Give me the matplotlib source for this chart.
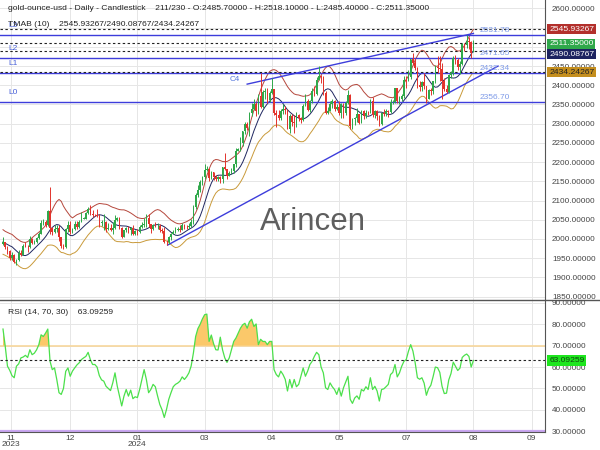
import numpy as np
import pandas as pd
import matplotlib
matplotlib.use('Agg')
import matplotlib.pyplot as plt
from matplotlib.lines import Line2D
from matplotlib.transforms import blended_transform_factory

plt.rcParams['font.family'] = ['Liberation Sans', 'DejaVu Sans']

# Daily gold candles, 03 Nov 2023 .. 23 Aug 2024
open_price = [1986,1992,1978,1969,1950, 1958,1940,1946,1963,1959, 1981,1980,1978,2000,1990,
              1992,2002,2014,2041,2044, 2036,2072,2029,2019,2026, 2028,2004,1981,1979,2027,
              2036,2019,2027,2040,2031, 2045,2053,2053,2067,2077, 2065,2063,2062,2060,2042,
              2043,2045,2027,2029,2024, 2029,2049,2055,2029,2006, 2023,2029,2022,2029,2014,
              2020,2018,2032,2037,2039, 2054,2039,2025,2035,2034, 2034,2024,2020,1993,1992,
              2004,2013,2017,2024,2026, 2024,2035,2031,2030,2034, 2044,2083,2114,2128,2148,
              2160,2179,2182,2158,2174, 2162,2155,2160,2157,2186, 2181,2165,2171,2178,2195,
              2230,2233,2250,2280,2300, 2290,2329,2339,2352,2333, 2372,2344,2383,2383,2361,
              2379,2391,2327,2322,2316, 2332,2337,2335,2286,2320, 2304,2301,2323,2314,2309,
              2346,2360,2336,2358,2386, 2376,2415,2425,2421,2379, 2329,2334,2350,2360,2338,
              2343,2327,2350,2327,2355, 2375,2294,2311,2316,2325, 2303,2333,2319,2329,2328,
              2360,2322,2334,2320,2298, 2327,2326,2332,2330,2356, 2356,2392,2359,2364,2371,
              2415,2411,2422,2469,2459, 2445,2400,2396,2409,2397, 2365,2387,2384,2410,2447,
              2446,2443,2410,2391,2382, 2427,2431,2472,2465,2447, 2456,2507,2504,2514,2512,
              2485.7]
high_price = [2004,1993,1981,1971,1965, 1960,1947,1971,1970,1986, 1993,1983,2007,2003,1996,
              2004,2018,2048,2052,2048, 2075,2135,2032,2035,2035, 2036,2005,1988,2028,2047,
              2047,2029,2047,2046,2048, 2071,2057,2070,2084,2088, 2076,2064,2079,2065,2050,
              2064,2047,2041,2040,2044, 2062,2058,2057,2031,2024, 2032,2033,2032,2037,2023,
              2025,2035,2043,2055,2065, 2066,2040,2040,2043,2042, 2038,2029,2032,1998,2007,
              2016,2022,2031,2030,2035, 2041,2038,2037,2042,2052, 2088,2120,2141,2153,2165,
              2195,2189,2185,2176,2175, 2167,2165,2163,2188,2223, 2183,2176,2184,2196,2236,
              2236,2266,2280,2305,2305, 2331,2354,2365,2357,2378, 2431,2387,2392,2393,2385,
              2418,2391,2336,2335,2339, 2352,2347,2337,2326,2326, 2322,2331,2326,2318,2351,
              2378,2365,2361,2392,2397, 2422,2450,2428,2424,2385, 2344,2358,2364,2361,2352,
              2360,2354,2353,2358,2387, 2378,2314,2318,2342,2326, 2335,2336,2336,2334,2365,
              2369,2336,2335,2322,2330, 2339,2339,2335,2364,2362, 2392,2393,2371,2376,2424,
              2424,2440,2469,2483,2470, 2447,2410,2411,2432,2398, 2390,2392,2411,2452,2477,
              2477,2458,2420,2401,2430, 2436,2475,2478,2471,2463, 2509,2510,2531,2526,2514,
              2518.1]
low_price = [1984,1975,1960,1946,1945, 1937,1931,1942,1956,1957, 1978,1965,1976,1987,1988,
             1989,2001,2012,2036,2031, 2033,2014,2009,2016,2017, 1995,1976,1973,1977,2018,
             2014,2016,2024,2027,2028, 2043,2051,2052,2065,2063, 2058,2060,2056,2031,2033,
             2024,2017,2022,2021,2013, 2027,2046,2025,2002,2004, 2017,2016,2011,2010,2009,
             2011,2016,2029,2030,2032, 2031,2015,2022,2030,2025, 2019,2016,1990,1984,1988,
             1997,2012,2015,2020,2019, 2022,2025,2025,2025,2030, 2038,2077,2110,2122,2141,
             2155,2176,2150,2155,2154, 2152,2151,2146,2146,2179, 2157,2163,2170,2172,2187,
             2228,2229,2243,2272,2283, 2268,2320,2335,2320,2326, 2342,2340,2365,2355,2357,
             2378,2323,2291,2310,2309, 2326,2324,2285,2277,2293, 2277,2291,2307,2303,2306,
             2345,2333,2331,2354,2373, 2374,2413,2407,2374,2326, 2325,2333,2342,2334,2335,
             2323,2314,2315,2323,2351, 2286,2287,2296,2305,2300, 2302,2311,2316,2322,2327,
             2317,2314,2310,2293,2297, 2319,2319,2318,2327,2352, 2353,2353,2351,2358,2368,
             2392,2410,2416,2453,2440, 2392,2384,2385,2390,2353, 2364,2375,2378,2407,2432,
             2410,2364,2385,2380,2380, 2419,2428,2456,2440,2430, 2454,2490,2496,2495,2470,
             2485.4]
close_price = [1992,1978,1969,1950,1958, 1940,1946,1963,1959,1981, 1980,1978,2000,1990,1992,
               2002,2014,2041,2044,2036, 2072,2029,2019,2026,2028, 2004,1981,1979,2027,2036,
               2019,2027,2040,2031,2045, 2053,2053,2067,2077,2065, 2063,2062,2060,2042,2043,
               2045,2027,2029,2024,2029, 2049,2055,2029,2006,2023, 2029,2022,2029,2014,2020,
               2018,2032,2037,2039,2054, 2039,2025,2035,2034,2034, 2024,2020,1993,1992,2004,
               2013,2017,2024,2026,2024, 2035,2031,2030,2034,2044, 2083,2114,2128,2148,2160,
               2179,2182,2158,2174,2162, 2155,2160,2157,2186,2181, 2165,2171,2178,2195,2230,
               2233,2250,2280,2300,2290, 2329,2339,2352,2333,2372, 2344,2383,2383,2361,2379,
               2391,2327,2322,2316,2332, 2337,2335,2286,2320,2304, 2301,2323,2314,2309,2346,
               2360,2336,2358,2386,2376, 2415,2425,2421,2379,2329, 2334,2350,2360,2338,2343,
               2327,2350,2327,2355,2375, 2294,2311,2316,2325,2303, 2333,2319,2329,2328,2360,
               2322,2334,2320,2298,2327, 2326,2332,2330,2356,2356, 2392,2359,2364,2371,2415,
               2411,2422,2469,2459,2445, 2400,2396,2409,2397,2365, 2387,2384,2410,2447,2446,
               2443,2410,2391,2382,2427, 2431,2472,2465,2447,2456, 2507,2504,2514,2512,2485,
               2511.35]

# RSI (14) as drawn in the lower panel
rsi_values = [77.8, 69.7, 60.4, 58.5, 56.0, 55.0, 60.4, 61.5, 64.3, 64.7,
              65.5, 64.5, 68.1, 65.8, 66.5, 68.1, 70.5, 75.1, 74.3, 75.9,
              77.8, 62.7, 58.8, 59.6, 54.2, 48.0, 47.2, 50.0, 58.0, 59.6,
              55.7, 58.1, 59.6, 61.0, 62.0, 63.5, 64.3, 65.0, 66.9, 63.5,
              61.2, 61.2, 60.0, 56.0, 54.0, 53.4, 51.0, 50.0, 49.0, 52.6,
              57.3, 51.1, 46.4, 41.8, 46.4, 49.5, 46.4, 49.2, 45.2, 46.1,
              45.7, 49.5, 54.2, 58.8, 54.2, 48.0, 49.5, 51.9, 50.8, 46.5,
              42.5, 40.0, 36.4, 40.2, 44.9, 48.0, 50.8, 51.9, 52.5, 53.4,
              55.4, 54.2, 55.5, 57.3, 60.5, 66.6, 74.3, 78.0, 80.0, 82.5,
              84.5, 84.8, 72.0, 75.0, 71.0, 68.1, 68.0, 74.0, 68.1, 64.3,
              62.2, 64.3, 68.1, 72.0, 73.6, 75.9, 78.2, 79.8, 80.5, 78.2,
              81.2, 82.4, 79.0, 80.2, 70.5, 73.0, 72.0, 72.0, 70.5, 72.0,
              72.0, 58.8, 56.5, 55.4, 58.1, 56.5, 54.2, 48.8, 54.2, 50.3,
              54.2, 50.8, 51.9, 55.7, 59.6, 55.7, 58.1, 61.2, 62.7, 65.0,
              66.9, 65.8, 60.0, 57.3, 50.3, 49.5, 52.6, 50.8, 49.5, 47.2,
              50.3, 46.4, 50.3, 53.0, 55.7, 44.9, 43.0, 45.5, 46.5, 44.9,
              49.5, 48.8, 50.8, 49.5, 55.0, 49.5, 51.0, 48.8, 44.1, 49.5,
              49.8, 50.8, 51.9, 56.5, 57.5, 61.2, 55.4, 57.3, 60.4, 62.7,
              63.5, 67.4, 70.5, 67.5, 62.0, 55.0, 54.3, 55.0, 52.5, 46.8,
              49.9, 51.5, 55.5, 60.0, 59.7, 57.5, 51.0, 47.6, 47.8, 54.0,
              57.0, 62.3, 60.3, 58.4, 59.5, 64.5, 65.5, 66.1, 65.0, 60.0,
              63.09259]

# horizontal levels
level_names = ['L0', 'L1', 'L2', 'L3']
level_values = [2356.70, 2432.34, 2471.65, 2531.78]
tmab_last = [2545.93267, 2490.08767, 2434.24267]
last_close = 2511.35
rsi_last = 63.09259

# channel lines (bar index, price)
upper_line_x = [109, 210]
upper_line_y = [2403, 2535]
lower_line_x = [73.5, 221]
lower_line_y = [1984, 2450]

tick_pos = [3.5, 30, 60, 90, 120, 150, 180, 210, 236]
tick_labels = ['11\n2023', '12', '01\n2024', '03', '04', '05', '07', '08', '09']

o = np.array(open_price, dtype=float)
h = np.array(high_price, dtype=float)
l = np.array(low_price, dtype=float)
c = np.array(close_price, dtype=float)
idx = np.arange(len(c))

# TMAB(10): triangular MA with a range-based envelope
cs = pd.Series(c)
mid = cs.rolling(6, min_periods=1).mean().rolling(5, min_periods=1).mean()
prev_c = cs.shift(1).fillna(cs.iloc[0])
tr = pd.concat([pd.Series(h - l), (pd.Series(h) - prev_c).abs(), (pd.Series(l) - prev_c).abs()], axis=1).max(axis=1)
band = tr.rolling(6, min_periods=1).mean().rolling(5, min_periods=1).mean()
upper = mid + 1.6 * band
lower = mid - 1.6 * band

fig = plt.figure(figsize=(6, 4.5), dpi=100)
ax = fig.add_axes([0, 150 / 450, 545 / 600, 300 / 450])
ax2 = fig.add_axes([0, 18 / 450, 545 / 600, 132 / 450], sharex=ax)

xmin, xmax = -1.34, 241.96
grid_c = '#e6e6e6'
txt_c = '#444444'

# ---- main panel ----
ax.set_xlim(xmin, xmax)
ax.set_ylim(1841, 2622)
ax.set_yticks(np.arange(1850, 2601, 50))
ax.yaxis.tick_right()
ax.yaxis.set_major_formatter(plt.FuncFormatter(lambda v, p: '%.5f' % v))
ax.tick_params(axis='y', length=0, pad=5, labelsize=5.9, labelcolor=txt_c)
ax.tick_params(axis='x', length=0, labelbottom=False)
ax.set_xticks(tick_pos)
ax.grid(True, color=grid_c, lw=0.7)
ax.set_axisbelow(True)
for s in ['top', 'left', 'bottom']:
    ax.spines[s].set_visible(False)
ax.spines['right'].set_color('#555555')

up_c, dn_c = '#2fa84a', '#e2332c'
cols = np.where(c >= o, up_c, dn_c)
ax.vlines(idx, l, h, colors=cols, lw=0.7, zorder=3)
body = np.maximum(np.abs(c - o), 0.8)
ax.bar(idx, body, bottom=np.minimum(o, c), width=0.72, color=cols, lw=0, zorder=3)

ax.plot(idx, upper, color='#b5473c', lw=0.7, zorder=2)
ax.plot(idx, mid, color='#1f2660', lw=0.7, zorder=2)
ax.plot(idx, lower, color='#c99a3a', lw=0.7, zorder=2)

blue = '#3d3ddb'
tr_x = blended_transform_factory(ax.transAxes, ax.transData)
for name, v in zip(level_names, level_values):
    ax.axhline(v, color=blue, lw=1.0, zorder=2)
    ax.annotate(name, xy=(8 / 545, v), xycoords=tr_x, xytext=(0, 4), textcoords='offset points',
                fontsize=6, color='#4a62d8', va='bottom', ha='left')
    ax.annotate('%.2f' % v, xy=(480 / 545, v), xycoords=tr_x, xytext=(0, 0.5), textcoords='offset points',
                fontsize=6, color='#7f9be8', va='bottom', ha='left')

for v in tmab_last + [last_close]:
    ax.axhline(v, color='#222222', lw=0.8, ls=(0, (2.2, 2.2)), zorder=2)

ax.plot(upper_line_x, upper_line_y, color=blue, lw=1.0, zorder=2)
ax.plot(lower_line_x, lower_line_y, color=blue, lw=1.0, zorder=2)
ax.text(103.5, 2414, 'C4', fontsize=5.9, color='#5577dd', ha='center', va='center')

# value boxes on the price axis
box_specs = [(tmab_last[0], '#b3302c', 'white', 0),
             (last_close, '#2fa84a', 'white', -1.0),
             (tmab_last[1], '#1d2360', 'white', -2.4),
             (tmab_last[2], '#c48e1e', '#222222', 0)]
for v, fc, tc, dy in box_specs:
    ax.annotate('%.5f' % v, xy=(1, v), xycoords=tr_x, xytext=(3.0, dy), textcoords='offset points',
                fontsize=6.1, color=tc, va='center', ha='left', annotation_clip=False, zorder=6,
                bbox=dict(boxstyle='square,pad=0.2', fc=fc, ec='none'))

# ---- RSI panel ----
ax2.set_ylim(29.6, 91.4)
ax2.set_yticks(np.arange(30, 91, 10))
ax2.yaxis.tick_right()
ax2.yaxis.set_major_formatter(plt.FuncFormatter(lambda v, p: '%.5f' % v))
ax2.tick_params(axis='y', length=0, pad=5, labelsize=5.9, labelcolor=txt_c)
ax2.set_xticks(tick_pos)
ax2.set_xticklabels(tick_labels, fontsize=6, color=txt_c, linespacing=0.9)
ax2.tick_params(axis='x', length=0, pad=2)
ax2.grid(True, color=grid_c, lw=0.7)
ax2.set_axisbelow(True)
for s in ['top', 'left']:
    ax2.spines[s].set_visible(False)
ax2.spines['right'].set_color('#555555')
ax2.spines['bottom'].set_color('#555555')

rsi = np.array(rsi_values)
ax2.axhline(70, color='#f7d79c', lw=1.2, zorder=2)
ax2.axhline(30, color='#c9a6f0', lw=1.6, zorder=2)
ax2.fill_between(idx, rsi, 70, where=rsi > 70, interpolate=True, color='#fbc86a', lw=0, zorder=2)
ax2.plot(idx, rsi, color='#4be04b', lw=0.9, zorder=3)
ax2.axhline(rsi_last, color='#222222', lw=0.8, ls=(0, (2.2, 2.2)), zorder=3)
tr_x2 = blended_transform_factory(ax2.transAxes, ax2.transData)
ax2.annotate('%.5f' % rsi_last, xy=(1, rsi_last), xycoords=tr_x2, xytext=(3.0, 0), textcoords='offset points',
             fontsize=6.1, color='#114411', va='center', ha='left', annotation_clip=False, zorder=6,
             bbox=dict(boxstyle='square,pad=0.2', fc='#1ee61e', ec='none'))

# separator and header texts
fig.add_artist(Line2D([0, 1], [1 - 300 / 450, 1 - 300 / 450], color='#555555', lw=1.0))
fig.text(8 / 600, 1 - 9 / 450,
         'gold-ounce-usd - Daily - Candlestick    211/230 - O:2485.70000 - H:2518.10000 - L:2485.40000 - C:2511.35000',
         fontsize=6.1, color='#222222', va='center', ha='left')
fig.text(8 / 600, 1 - 25 / 450, 'TMAB (10)    %.5f/%.5f/%.5f' % tuple(tmab_last),
         fontsize=6.1, color='#222222', va='center', ha='left')
fig.text(8 / 600, 1 - 312 / 450, 'RSI (14, 70, 30)    %.5f' % rsi_last,
         fontsize=6.1, color='#222222', va='center', ha='left')
fig.text(313 / 600, 1 - 222 / 450, 'Arincen', fontsize=22.5, color='#5e5e5e', va='center', ha='center')

fig.savefig('out.png', dpi=100)
